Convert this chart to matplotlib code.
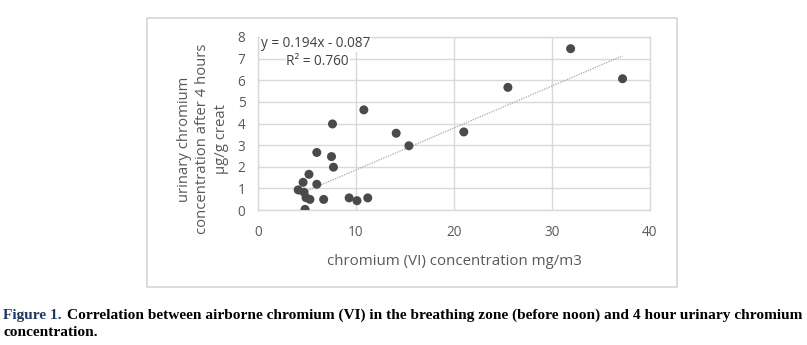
import matplotlib.pyplot as plt
from matplotlib.patches import Rectangle

# airborne Cr(VI) (mg/m3) vs 4 h urinary chromium (ug/g creat)
cr_air = [31.9, 37.2, 25.5, 21.0, 10.8, 7.6, 14.1, 15.4, 6.0, 7.5, 7.7, 5.2,
          6.0, 4.6, 4.1, 4.7, 4.9, 5.3, 6.7, 9.3, 10.1, 11.2, 4.8]
cr_urine = [7.46, 6.07, 5.67, 3.61, 4.63, 3.98, 3.55, 2.97, 2.66, 2.47, 1.98, 1.65,
            1.19, 1.28, 0.93, 0.82, 0.57, 0.49, 0.49, 0.56, 0.43, 0.56, 0.03]

slope = 0.194
intercept = -0.087
r2 = 0.760

xticks = [0, 10, 20, 30, 40]
yticks = [0, 1, 2, 3, 4, 5, 6, 7, 8]

grid_col = "#d9d9d9"
txt_col = "#595959"
font = "Open Sans"

W, H = 807, 345
fig = plt.figure(figsize=(W / 100, H / 100), dpi=100)

# outer chart frame
fig.patches.append(Rectangle((147 / W, 1 - 287 / H), (677 - 147) / W, (287 - 18) / H,
                             transform=fig.transFigure, fill=False,
                             edgecolor=grid_col, linewidth=1.3))

ax = fig.add_axes([258 / W, 1 - 210 / H, (650 - 258) / W, (210 - 37) / H])
ax.set_xlim(0, 40)
ax.set_ylim(0, 8)
ax.set_xticks(xticks)
ax.set_yticks(yticks)
ax.grid(True, color=grid_col, linewidth=1)
ax.set_axisbelow(True)
for s in ax.spines.values():
    s.set_color(grid_col)
    s.set_linewidth(1)
ax.tick_params(length=0, colors=txt_col, labelsize=9.8, pad=9)
ax.tick_params(axis="x", pad=11)
for lab in ax.get_xticklabels() + ax.get_yticklabels():
    lab.set_fontfamily(font)

# linear trendline
x0, x1 = min(cr_air), max(cr_air)
ax.plot([x0, x1], [slope * x0 + intercept, slope * x1 + intercept],
        color="#a6a6a6", linewidth=0.9, linestyle=(0, (1, 1)), zorder=2)

ax.scatter(cr_air, cr_urine, s=42, color="#4a4a4a", edgecolors="none", zorder=3)

ax.text(0.3, 7.7, "y = 0.194x - 0.087", fontsize=9.8, color="#404040",
        family=font, ha="left", va="center",
        bbox=dict(facecolor="white", edgecolor="none", pad=0.5))
ax.text(2.9, 6.85, "R² = 0.760", fontsize=9.8, color="#404040",
        family=font, ha="left", va="center",
        bbox=dict(facecolor="white", edgecolor="none", pad=0.5))

ax.set_xlabel("chromium (VI) concentration mg/m3", fontsize=10.8, color=txt_col,
              family=font, labelpad=10)
fig.text(203 / W, 1 - 139 / H,
         "urinary chromium\nconcentration after 4 hours\nµg/g creat",
         rotation=90, ha="center", va="center", fontsize=10.7, color=txt_col,
         family=font, linespacing=1.32, multialignment="center")

# figure caption
fig.text(3 / W, 1 - 315 / H, "Figure 1.", fontsize=11.1, fontweight="bold",
         color="#1f3864", family="Liberation Serif", va="center")
fig.text(67 / W, 1 - 315 / H,
         "Correlation between airborne chromium (VI) in the breathing zone "
         "(before noon) and 4 hour urinary chromium",
         fontsize=11.1, fontweight="bold", color="black", family="Liberation Serif",
         va="center")
fig.text(3 / W, 1 - 332 / H, "concentration.", fontsize=11.1, fontweight="bold",
         color="black", family="Liberation Serif", va="center")

fig.savefig("out.png", dpi=100)
